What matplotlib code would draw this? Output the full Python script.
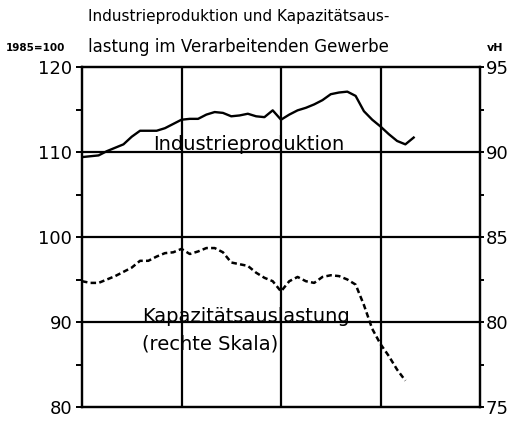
import matplotlib
matplotlib.use("Agg")
import matplotlib.pyplot as plt
import numpy as np
from matplotlib.ticker import MultipleLocator, NullFormatter

# monthly values, month 0 = left edge of the chart, 48 months shown
prod_months = np.arange(0, 41)
produktion = [
    109.4, 109.5, 109.6, 110.1, 110.5, 110.9, 111.8, 112.5, 112.5, 112.5,
    112.8, 113.3, 113.8, 113.9, 113.9, 114.4, 114.7, 114.6, 114.2, 114.3,
    114.5, 114.2, 114.1, 114.9, 113.8, 114.4, 114.9, 115.2, 115.6, 116.1,
    116.8, 117.0, 117.1, 116.6, 114.8, 113.8, 113.0, 112.1, 111.3, 110.9,
    111.7,
]
kap_months = np.arange(0, 40)
kapazitaet = [
    82.4, 82.3, 82.3, 82.5, 82.7, 82.95, 83.2, 83.6, 83.6, 83.85,
    84.05, 84.1, 84.3, 84.0, 84.15, 84.35, 84.35, 84.1, 83.5, 83.4,
    83.3, 82.9, 82.6, 82.4, 81.8, 82.4, 82.65, 82.4, 82.3, 82.65,
    82.75, 82.7, 82.5, 82.2, 81.0, 79.6, 78.7, 78.0, 77.2, 76.55,
]

FONT = ["DejaVu Sans"]

fig = plt.figure(figsize=(5.14, 4.30), dpi=100)
ax = fig.add_axes([82 / 514, 23 / 430, 398 / 514, 340 / 430])
ax2 = ax.twinx()

ax.set_xlim(0, 48)
ax.set_ylim(80, 120)
ax2.set_ylim(75, 95)

# grid
for yv in (90, 100, 110):
    ax.axhline(yv, color="black", linewidth=1.6, zorder=1)
for xv in (12, 24, 36):
    ax.axvline(xv, color="black", linewidth=1.6, zorder=1)

ax.plot(prod_months, produktion, color="black", linewidth=1.7, zorder=3)
ax2.plot(kap_months, kapazitaet, color="black", linewidth=1.8,
         linestyle=(0, (2.2, 1.3)), zorder=3)

for a in (ax, ax2):
    for s in a.spines.values():
        s.set_linewidth(1.6)
    a.set_xticks([])

ax.yaxis.set_major_locator(MultipleLocator(10))
ax.yaxis.set_minor_locator(MultipleLocator(5))
ax.tick_params(axis="y", which="both", direction="out", length=4, width=1.4,
               pad=3, labelsize=13)
ax2.yaxis.set_major_locator(MultipleLocator(5))
ax2.yaxis.set_minor_locator(MultipleLocator(2.5))
ax2.yaxis.set_minor_formatter(NullFormatter())
ax2.tick_params(axis="y", which="both", direction="out", length=3, width=1.4,
                pad=1, labelsize=13)

ax.text(8.6, 110.9, "Industrieproduktion", fontsize=14, family=FONT,
        va="center", ha="left")
ax.text(7.2, 90.6, "Kapazitätsauslastung", fontsize=14, family=FONT,
        va="center", ha="left")
ax.text(7.2, 87.4, "(rechte Skala)", fontsize=14, family=FONT,
        va="center", ha="left")

fig.text(88 / 514, 1 - 16 / 430, "Industrieproduktion und Kapazitätsaus-",
         fontsize=11, family=FONT, va="center", ha="left")
fig.text(88 / 514, 1 - 47 / 430, "lastung im Verarbeitenden Gewerbe",
         fontsize=12, family=FONT, va="center", ha="left")
fig.text(6 / 514, 1 - 48 / 430, "1985=100", fontsize=7.5, family=FONT,
         fontweight="bold", va="center", ha="left")
fig.text(487 / 514, 1 - 48 / 430, "vH", fontsize=8, family=FONT,
         fontweight="bold", va="center", ha="left")

fig.savefig("out.png", dpi=100)
